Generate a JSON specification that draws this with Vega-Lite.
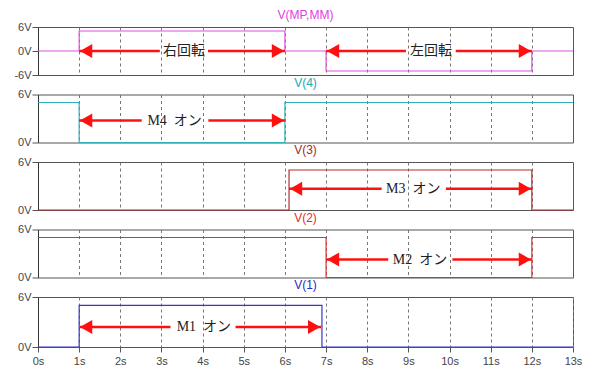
{
  "$schema": "https://vega.github.io/schema/vega-lite/v6.json",
  "background": "white",
  "padding": {"left": 13, "top": 8, "right": 5, "bottom": 5},
  "bounds": "flush",
  "spacing": 19.5,
  "config": {
    "view": {"stroke": "#555", "strokeWidth": 1},
    "title": {"fontSize": 12, "font": "Liberation Sans", "fontWeight": "normal", "offset": -1, "anchor": "middle"},
    "axis": {"labelFont": "Liberation Sans", "labelFontSize": 11, "labelColor": "#444", "tickColor": "#555", "domainColor": "#333", "title": null, "labelOverlap": false, "labelFlush": false}
  },
  "datasets": {
    "signals": [
      {"sig": "MP", "t": 0, "v": 0}, {"sig": "MP", "t": 1, "v": 5}, {"sig": "MP", "t": 6, "v": 0}, {"sig": "MP", "t": 7, "v": -5}, {"sig": "MP", "t": 12, "v": 0}, {"sig": "MP", "t": 13, "v": 0},
      {"sig": "V4", "t": 0, "v": 5}, {"sig": "V4", "t": 1, "v": 0}, {"sig": "V4", "t": 6, "v": 5}, {"sig": "V4", "t": 13, "v": 5},
      {"sig": "V3", "t": 0, "v": 0}, {"sig": "V3", "t": 6.1, "v": 5}, {"sig": "V3", "t": 12, "v": 0}, {"sig": "V3", "t": 13, "v": 0},
      {"sig": "V2", "t": 0, "v": 5}, {"sig": "V2", "t": 7, "v": 0}, {"sig": "V2", "t": 12, "v": 5}, {"sig": "V2", "t": 13, "v": 5},
      {"sig": "V1", "t": 0, "v": 0}, {"sig": "V1", "t": 1, "v": 5}, {"sig": "V1", "t": 6.9, "v": 0}, {"sig": "V1", "t": 13, "v": 0}
    ],
    "arrows": [
      {"sig": "MP", "start": 1, "gapL": 2.96, "gapR": 4.13, "end": 6, "v": 0, "center": 3.55, "label": "右回転"},
      {"sig": "MP", "start": 7, "gapL": 8.94, "gapR": 10.15, "end": 12, "v": 0, "center": 9.55, "label": "左回転"},
      {"sig": "V4", "start": 1, "gapL": 2.52, "gapR": 4.14, "end": 6, "v": 2.75, "center": 3.32, "label": "M4\u00a0 オン"},
      {"sig": "V3", "start": 6.1, "gapL": 8.35, "gapR": 9.91, "end": 12, "v": 2.65, "center": 9.12, "label": "M3\u00a0 オン"},
      {"sig": "V2", "start": 7, "gapL": 8.51, "gapR": 10.07, "end": 12, "v": 2.25, "center": 9.28, "label": "M2\u00a0 オン"},
      {"sig": "V1", "start": 1, "gapL": 3.22, "gapR": 4.8, "end": 6.88, "v": 2.4, "center": 4.03, "label": "M1\u00a0 オン"}
    ]
  },
  "vconcat": [
    {
      "width": 535, "height": 48,
      "title": {"text": "V(MP,MM)", "color": "#e040e0"},
      "encoding": {
        "y": {"field": "v", "type": "quantitative", "scale": {"domain": [-6, 6], "nice": false, "zero": false}, "axis": {"values": [-6, 0, 6], "labelExpr": "datum.value + 'V'", "grid": false, "tickSize": 6, "labelPadding": 1, "labelOverlap": false}}
      },
      "layer": [
        {"data": {"name": "signals"}, "transform": [{"filter": "datum.sig == 'MP'"}],
         "mark": {"type": "line", "interpolate": "step-after", "color": "#e050e0", "strokeWidth": 1.2},
         "encoding": {
           "x": {"field": "t", "type": "quantitative", "scale": {"domain": [0, 13], "nice": false}, "axis": {"labels": false, "ticks": false, "domain": false, "grid": true, "gridDash": [3, 3], "gridColor": "#777", "values": [1,2,3,4,5,6,7,8,9,10,11,12]}}
         }},
        {"data": {"name": "arrows"}, "transform": [{"filter": "datum.sig == 'MP'"}],
         "mark": {"type": "rule", "color": "#ff1010", "strokeWidth": 2.5},
         "encoding": {"x": {"field": "start", "type": "quantitative"}, "x2": {"field": "gapL"}}},
        {"data": {"name": "arrows"}, "transform": [{"filter": "datum.sig == 'MP'"}],
         "mark": {"type": "rule", "color": "#ff1010", "strokeWidth": 2.5},
         "encoding": {"x": {"field": "gapR", "type": "quantitative"}, "x2": {"field": "end"}}},
        {"data": {"name": "arrows"}, "transform": [{"filter": "datum.sig == 'MP'"}],
         "mark": {"type": "point", "shape": "triangle-left", "filled": true, "color": "#ff1010", "opacity": 1, "size": 200, "xOffset": 7},
         "encoding": {"x": {"field": "start", "type": "quantitative"}}},
        {"data": {"name": "arrows"}, "transform": [{"filter": "datum.sig == 'MP'"}],
         "mark": {"type": "point", "shape": "triangle-right", "filled": true, "color": "#ff1010", "opacity": 1, "size": 200, "xOffset": -7},
         "encoding": {"x": {"field": "end", "type": "quantitative"}}},
        {"data": {"name": "arrows"}, "transform": [{"filter": "datum.sig == 'MP'"}],
         "mark": {"type": "text", "font": "Noto Sans CJK JP", "fontSize": 14, "color": "#222", "baseline": "middle"},
         "encoding": {"x": {"field": "center", "type": "quantitative"}, "text": {"field": "label"}}}
      ]
    },
    {
      "width": 535, "height": 48,
      "title": {"text": "V(4)", "color": "#20a8b0"},
      "encoding": {
        "y": {"field": "v", "type": "quantitative", "scale": {"domain": [0, 6], "nice": false}, "axis": {"values": [0, 6], "labelExpr": "datum.value + 'V'", "grid": false, "tickSize": 6, "labelPadding": 1, "labelOverlap": false}}
      },
      "layer": [
        {"data": {"name": "signals"}, "transform": [{"filter": "datum.sig == 'V4'"}],
         "mark": {"type": "line", "interpolate": "step-after", "color": "#30b0b8", "strokeWidth": 1.2},
         "encoding": {
           "x": {"field": "t", "type": "quantitative", "scale": {"domain": [0, 13], "nice": false}, "axis": {"labels": false, "ticks": false, "domain": false, "grid": true, "gridDash": [3, 3], "gridColor": "#777", "values": [1,2,3,4,5,6,7,8,9,10,11,12]}}
         }},
        {"data": {"name": "arrows"}, "transform": [{"filter": "datum.sig == 'V4'"}],
         "mark": {"type": "rule", "color": "#ff1010", "strokeWidth": 2.5},
         "encoding": {"x": {"field": "start", "type": "quantitative"}, "x2": {"field": "gapL"}}},
        {"data": {"name": "arrows"}, "transform": [{"filter": "datum.sig == 'V4'"}],
         "mark": {"type": "rule", "color": "#ff1010", "strokeWidth": 2.5},
         "encoding": {"x": {"field": "gapR", "type": "quantitative"}, "x2": {"field": "end"}}},
        {"data": {"name": "arrows"}, "transform": [{"filter": "datum.sig == 'V4'"}],
         "mark": {"type": "point", "shape": "triangle-left", "filled": true, "color": "#ff1010", "opacity": 1, "size": 200, "xOffset": 7},
         "encoding": {"x": {"field": "start", "type": "quantitative"}}},
        {"data": {"name": "arrows"}, "transform": [{"filter": "datum.sig == 'V4'"}],
         "mark": {"type": "point", "shape": "triangle-right", "filled": true, "color": "#ff1010", "opacity": 1, "size": 200, "xOffset": -7},
         "encoding": {"x": {"field": "end", "type": "quantitative"}}},
        {"data": {"name": "arrows"}, "transform": [{"filter": "datum.sig == 'V4'"}],
         "mark": {"type": "text", "font": "Liberation Serif, Noto Sans CJK JP", "fontSize": 14, "color": "#222", "baseline": "middle"},
         "encoding": {"x": {"field": "center", "type": "quantitative"}, "text": {"field": "label"}}}
      ]
    },
    {
      "width": 535, "height": 48,
      "title": {"text": "V(3)", "color": "#a82828"},
      "encoding": {
        "y": {"field": "v", "type": "quantitative", "scale": {"domain": [0, 6], "nice": false}, "axis": {"values": [0, 6], "labelExpr": "datum.value + 'V'", "grid": false, "tickSize": 6, "labelPadding": 1, "labelOverlap": false}}
      },
      "layer": [
        {"data": {"name": "signals"}, "transform": [{"filter": "datum.sig == 'V3'"}],
         "mark": {"type": "line", "interpolate": "step-after", "color": "#b03030", "strokeWidth": 1.2},
         "encoding": {
           "x": {"field": "t", "type": "quantitative", "scale": {"domain": [0, 13], "nice": false}, "axis": {"labels": false, "ticks": false, "domain": false, "grid": true, "gridDash": [3, 3], "gridColor": "#777", "values": [1,2,3,4,5,6,7,8,9,10,11,12]}}
         }},
        {"data": {"name": "arrows"}, "transform": [{"filter": "datum.sig == 'V3'"}],
         "mark": {"type": "rule", "color": "#ff1010", "strokeWidth": 2.5},
         "encoding": {"x": {"field": "start", "type": "quantitative"}, "x2": {"field": "gapL"}}},
        {"data": {"name": "arrows"}, "transform": [{"filter": "datum.sig == 'V3'"}],
         "mark": {"type": "rule", "color": "#ff1010", "strokeWidth": 2.5},
         "encoding": {"x": {"field": "gapR", "type": "quantitative"}, "x2": {"field": "end"}}},
        {"data": {"name": "arrows"}, "transform": [{"filter": "datum.sig == 'V3'"}],
         "mark": {"type": "point", "shape": "triangle-left", "filled": true, "color": "#ff1010", "opacity": 1, "size": 200, "xOffset": 7},
         "encoding": {"x": {"field": "start", "type": "quantitative"}}},
        {"data": {"name": "arrows"}, "transform": [{"filter": "datum.sig == 'V3'"}],
         "mark": {"type": "point", "shape": "triangle-right", "filled": true, "color": "#ff1010", "opacity": 1, "size": 200, "xOffset": -7},
         "encoding": {"x": {"field": "end", "type": "quantitative"}}},
        {"data": {"name": "arrows"}, "transform": [{"filter": "datum.sig == 'V3'"}],
         "mark": {"type": "text", "font": "Liberation Serif, Noto Sans CJK JP", "fontSize": 14, "color": "#222", "baseline": "middle"},
         "encoding": {"x": {"field": "center", "type": "quantitative"}, "text": {"field": "label"}}}
      ]
    },
    {
      "width": 535, "height": 48,
      "title": {"text": "V(2)", "color": "#ee2828"},
      "encoding": {
        "y": {"field": "v", "type": "quantitative", "scale": {"domain": [0, 6], "nice": false}, "axis": {"values": [0, 6], "labelExpr": "datum.value + 'V'", "grid": false, "tickSize": 6, "labelPadding": 1, "labelOverlap": false}}
      },
      "layer": [
        {"data": {"name": "signals"}, "transform": [{"filter": "datum.sig == 'V2'"}],
         "mark": {"type": "line", "interpolate": "step-after", "color": "#e03030", "strokeWidth": 1.2},
         "encoding": {
           "x": {"field": "t", "type": "quantitative", "scale": {"domain": [0, 13], "nice": false}, "axis": {"labels": false, "ticks": false, "domain": false, "grid": true, "gridDash": [3, 3], "gridColor": "#777", "values": [1,2,3,4,5,6,7,8,9,10,11,12]}}
         }},
        {"data": {"name": "arrows"}, "transform": [{"filter": "datum.sig == 'V2'"}],
         "mark": {"type": "rule", "color": "#ff1010", "strokeWidth": 2.5},
         "encoding": {"x": {"field": "start", "type": "quantitative"}, "x2": {"field": "gapL"}}},
        {"data": {"name": "arrows"}, "transform": [{"filter": "datum.sig == 'V2'"}],
         "mark": {"type": "rule", "color": "#ff1010", "strokeWidth": 2.5},
         "encoding": {"x": {"field": "gapR", "type": "quantitative"}, "x2": {"field": "end"}}},
        {"data": {"name": "arrows"}, "transform": [{"filter": "datum.sig == 'V2'"}],
         "mark": {"type": "point", "shape": "triangle-left", "filled": true, "color": "#ff1010", "opacity": 1, "size": 200, "xOffset": 7},
         "encoding": {"x": {"field": "start", "type": "quantitative"}}},
        {"data": {"name": "arrows"}, "transform": [{"filter": "datum.sig == 'V2'"}],
         "mark": {"type": "point", "shape": "triangle-right", "filled": true, "color": "#ff1010", "opacity": 1, "size": 200, "xOffset": -7},
         "encoding": {"x": {"field": "end", "type": "quantitative"}}},
        {"data": {"name": "arrows"}, "transform": [{"filter": "datum.sig == 'V2'"}],
         "mark": {"type": "text", "font": "Liberation Serif, Noto Sans CJK JP", "fontSize": 14, "color": "#222", "baseline": "middle"},
         "encoding": {"x": {"field": "center", "type": "quantitative"}, "text": {"field": "label"}}}
      ]
    },
    {
      "width": 535, "height": 50,
      "title": {"text": "V(1)", "color": "#2828cc"},
      "encoding": {
        "y": {"field": "v", "type": "quantitative", "scale": {"domain": [0, 6], "nice": false}, "axis": {"values": [0, 6], "labelExpr": "datum.value + 'V'", "grid": false, "tickSize": 6, "labelPadding": 1, "labelOverlap": false}}
      },
      "layer": [
        {"data": {"name": "signals"}, "transform": [{"filter": "datum.sig == 'V1'"}],
         "mark": {"type": "line", "interpolate": "step-after", "color": "#3838c8", "strokeWidth": 1.2},
         "encoding": {
           "x": {"field": "t", "type": "quantitative", "scale": {"domain": [0, 13], "nice": false}, "axis": {"values": [0,1,2,3,4,5,6,7,8,9,10,11,12,13], "labelExpr": "datum.value + 's'", "grid": true, "gridDash": [3, 3], "gridColor": "#777", "tickSize": 5, "labelPadding": 3, "domain": false, "labelOverlap": false}}
         }},
        {"data": {"name": "arrows"}, "transform": [{"filter": "datum.sig == 'V1'"}],
         "mark": {"type": "rule", "color": "#ff1010", "strokeWidth": 2.5},
         "encoding": {"x": {"field": "start", "type": "quantitative"}, "x2": {"field": "gapL"}}},
        {"data": {"name": "arrows"}, "transform": [{"filter": "datum.sig == 'V1'"}],
         "mark": {"type": "rule", "color": "#ff1010", "strokeWidth": 2.5},
         "encoding": {"x": {"field": "gapR", "type": "quantitative"}, "x2": {"field": "end"}}},
        {"data": {"name": "arrows"}, "transform": [{"filter": "datum.sig == 'V1'"}],
         "mark": {"type": "point", "shape": "triangle-left", "filled": true, "color": "#ff1010", "opacity": 1, "size": 200, "xOffset": 7},
         "encoding": {"x": {"field": "start", "type": "quantitative"}}},
        {"data": {"name": "arrows"}, "transform": [{"filter": "datum.sig == 'V1'"}],
         "mark": {"type": "point", "shape": "triangle-right", "filled": true, "color": "#ff1010", "opacity": 1, "size": 200, "xOffset": -7},
         "encoding": {"x": {"field": "end", "type": "quantitative"}}},
        {"data": {"name": "arrows"}, "transform": [{"filter": "datum.sig == 'V1'"}],
         "mark": {"type": "text", "font": "Liberation Serif, Noto Sans CJK JP", "fontSize": 14, "color": "#222", "baseline": "middle"},
         "encoding": {"x": {"field": "center", "type": "quantitative"}, "text": {"field": "label"}}}
      ]
    }
  ]
}
